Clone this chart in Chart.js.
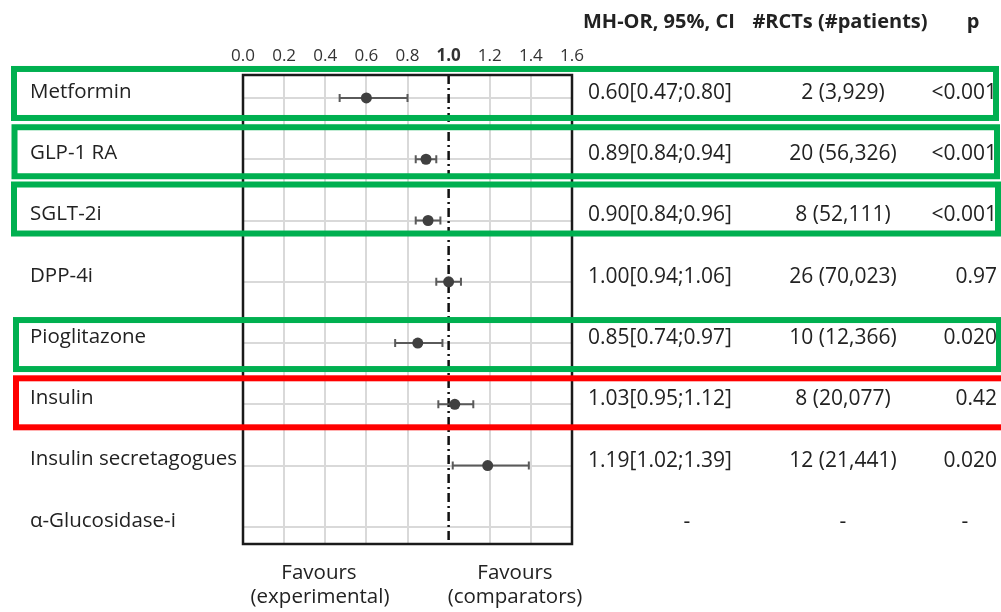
<!DOCTYPE html>
<html>
<head>
<meta charset="utf-8">
<script src="https://cdn.jsdelivr.net/npm/chart.js@4.4.1/dist/chart.umd.min.js"></script>
<style>
html, body { margin: 0; padding: 0; background: #fff; }
#wrap { position: relative; width: 1001px; height: 612px; }
</style>
</head>
<body>
<div id="wrap"><canvas id="forestChart"></canvas></div>
<script>
// data
const drugs = ['Metformin', 'GLP-1 RA', 'SGLT-2i', 'DPP-4i', 'Pioglitazone', 'Insulin', 'Insulin secretagogues', '\u03B1-Glucosidase-i'];
const oddsRatio = [0.60, 0.89, 0.90, 1.00, 0.85, 1.03, 1.19, null];
const ciLow = [0.47, 0.84, 0.84, 0.94, 0.74, 0.95, 1.02, null];
const ciHigh = [0.80, 0.94, 0.96, 1.06, 0.97, 1.12, 1.39, null];
const trialsText = ['2 (3,929)', '20 (56,326)', '8 (52,111)', '26 (70,023)', '10 (12,366)', '8 (20,077)', '12 (21,441)', '-'];
const pText = ['<0.001', '<0.001', '<0.001', '0.97', '0.020', '0.42', '0.020', '-'];
const xTicks = [0, 0.2, 0.4, 0.6, 0.8, 1.0, 1.2, 1.4, 1.6];

const FONT = '"Open Sans", Lato, sans-serif';
const TEXT = '#222';
const GREEN = '#00B050';
const RED = '#FF0000';

// coloured frames around rows (row index, offsets in px from the row line)
const highlightBoxes = [
    {row: 0, color: GREEN, left: 14, right: 996, top: -29, bottom: 20},
    {row: 1, color: GREEN, left: 14.5, right: 997, top: -32, bottom: 17},
    {row: 2, color: GREEN, left: 14, right: 998, top: -36, bottom: 13},
    {row: 4, color: GREEN, left: 16, right: 999, top: -23, bottom: 26},
    {row: 5, color: RED, left: 16, right: 1010, top: -26, bottom: 23}
];

function orLabel(i) {
    if (oddsRatio[i] === null) return '-';
    return oddsRatio[i].toFixed(2) + '[' + ciLow[i].toFixed(2) + ';' + ciHigh[i].toFixed(2) + ']';
}

Chart.register({
    id: 'forestExtras',

    beforeDatasetsDraw(chart) {
        const {ctx, chartArea: a, scales: {x, y}} = chart;
        ctx.save();

        // no-effect line at 1.0
        const xr = x.getPixelForValue(1);
        ctx.strokeStyle = '#111';
        ctx.lineWidth = 2.5;
        ctx.setLineDash([9, 4, 2, 4]);
        ctx.beginPath();
        ctx.moveTo(xr, a.top);
        ctx.lineTo(xr, a.bottom);
        ctx.stroke();
        ctx.setLineDash([]);

        // confidence intervals
        ctx.strokeStyle = '#5a5a5a';
        ctx.lineWidth = 2;
        oddsRatio.forEach((v, i) => {
            if (v === null) return;
            const py = y.getPixelForValue(i);
            const x1 = x.getPixelForValue(ciLow[i]);
            const x2 = x.getPixelForValue(ciHigh[i]);
            ctx.beginPath();
            ctx.moveTo(x1, py); ctx.lineTo(x2, py);
            ctx.moveTo(x1, py - 4); ctx.lineTo(x1, py + 4);
            ctx.moveTo(x2, py - 4); ctx.lineTo(x2, py + 4);
            ctx.stroke();
        });

        ctx.restore();
    },

    afterDraw(chart) {
        const {ctx, chartArea: a, scales: {y}} = chart;
        ctx.save();

        // plot frame
        ctx.strokeStyle = '#1a1a1a';
        ctx.lineWidth = 2.5;
        ctx.strokeRect(a.left, a.top, a.right - a.left, a.bottom - a.top);

        // table header
        ctx.fillStyle = TEXT;
        ctx.textBaseline = 'middle';
        ctx.font = 'bold 20px ' + FONT;
        ctx.textAlign = 'left';
        ctx.fillText('MH-OR, 95%, CI', a.right + 11, 22);
        ctx.textAlign = 'center';
        ctx.fillText('#RCTs (#patients)', 840, 22);
        ctx.fillText('p', 973, 22);

        // table rows
        ctx.font = '21px ' + FONT;
        drugs.forEach((d, i) => {
            const py = y.getPixelForValue(i) - 5;
            const orT = orLabel(i);
            if (orT === '-') {
                ctx.textAlign = 'center';
                ctx.fillText(orT, 687, py);
            } else {
                ctx.textAlign = 'left';
                ctx.fillText(orT, a.right + 16, py);
            }
            ctx.textAlign = 'center';
            ctx.fillText(trialsText[i], 843, py);
            if (pText[i] === '-') {
                ctx.fillText(pText[i], 965, py);
            } else {
                ctx.textAlign = 'right';
                ctx.fillText(pText[i], 997, py);
            }
        });

        // favours labels
        ctx.font = '20.5px ' + FONT;
        ctx.textAlign = 'center';
        ctx.fillText('Favours', a.left + 76, a.bottom + 29);
        ctx.fillText('(experimental)', a.left + 77, a.bottom + 53);
        ctx.fillText('Favours', a.left + 272, a.bottom + 29);
        ctx.fillText('(comparators)', a.left + 272, a.bottom + 53);

        // highlight frames
        ctx.lineWidth = 6;
        highlightBoxes.forEach(b => {
            const py = y.getPixelForValue(b.row);
            ctx.strokeStyle = b.color;
            ctx.strokeRect(b.left, py + b.top, b.right - b.left, b.bottom - b.top);
        });

        ctx.restore();
    }
});

const points = [];
oddsRatio.forEach((v, i) => {
    if (v !== null) points.push({x: v, y: i});
});

new Chart(document.getElementById('forestChart'), {
    type: 'scatter',

    data: {
        datasets: [{
            label: 'MH-OR',
            data: points,
            backgroundColor: '#404040',
            borderColor: '#404040',
            pointRadius: 5.5,
            borderWidth: 0
        }]
    },

    options: {
        responsive: true,
        maintainAspectRatio: false,
        animation: false,

        layout: {
            padding: {left: 30, right: 429, top: 45, bottom: 68}
        },

        plugins: {
            legend: {display: false},
            tooltip: {enabled: false}
        },

        scales: {
            x: {
                type: 'linear',
                position: 'top',
                min: 0,
                max: 1.6,
                afterBuildTicks: s => { s.ticks = xTicks.map(v => ({value: v})); },
                afterFit: s => { s.height = 30; },
                border: {display: false},
                grid: {
                    drawTicks: false,
                    lineWidth: 2,
                    color: c => (c.tick && Math.abs(c.tick.value - 1) < 1e-6) ? 'rgba(0,0,0,0)' : '#d9d9d9'
                },
                ticks: {
                    padding: 9,
                    color: '#333',
                    font: c => ({
                        family: FONT,
                        size: 17,
                        weight: (c.tick && Math.abs(c.tick.value - 1) < 1e-6) ? 'bold' : 'normal'
                    }),
                    callback: v => Number(v).toFixed(1)
                }
            },

            y: {
                type: 'linear',
                reverse: true,
                min: -0.375,
                max: 7.28,
                afterBuildTicks: s => { s.ticks = drugs.map((_, i) => ({value: i})); },
                afterFit: s => { s.width = 213; },
                border: {display: false},
                grid: {
                    drawTicks: false,
                    lineWidth: 2,
                    color: '#d9d9d9'
                },
                ticks: {
                    crossAlign: 'far',
                    autoSkip: false,
                    labelOffset: -6,
                    color: TEXT,
                    font: {family: FONT, size: 20.5},
                    callback: v => drugs[v]
                }
            }
        }
    }
});
</script>
</body>
</html>
